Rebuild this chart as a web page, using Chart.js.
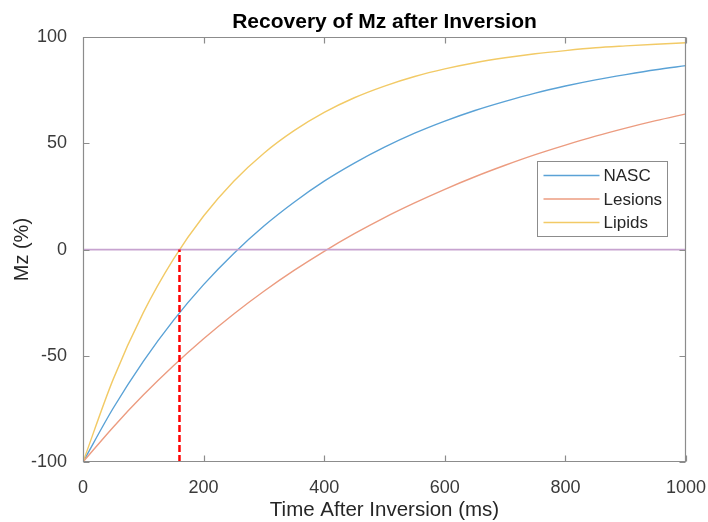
<!DOCTYPE html>
<html>
<head>
<meta charset="utf-8">
<script src="https://cdn.jsdelivr.net/npm/chart.js@4"></script>
<style>
  html, body { margin: 0; padding: 0; background: #ffffff; }
  #c { display: block; }
</style>
</head>
<body>
<canvas id="c" width="708" height="522"></canvas>
<script>
// Time after the inversion pulse (ms)
const timesMs = [0, 50, 100, 150, 200, 250, 300, 350, 400, 450, 500,
                 550, 600, 650, 700, 750, 800, 850, 900, 950, 1000];

// Longitudinal magnetisation Mz (%) for each tissue
const nascMz    = [-100, -74.7, -52.6, -33.3, -16.5, -1.8, 11.1, 22.3, 32.2, 40.7, 48.2,
                   54.8, 60.5, 65.5, 69.8, 73.7, 77.0, 79.9, 82.4, 84.7, 86.6];
const lesionsMz = [-100, -83.6, -68.5, -54.7, -42.0, -30.3, -19.6, -9.8, -0.8, 7.5, 15.1,
                   22.0, 28.4, 34.3, 39.7, 44.7, 49.2, 53.4, 57.2, 60.7, 63.9];
const lipidsMz  = [-100, -61.1, -29.7, -4.5, 15.8, 32.2, 45.4, 56.0, 64.6, 71.5, 77.0,
                   81.5, 85.1, 88.0, 90.3, 92.2, 93.7, 95.0, 95.9, 96.7, 97.4];

const seriesNames = ['NASC', 'Lesions', 'Lipids'];

// Null point of the lipid signal (ms) and the zero line
const nullTimeMs = 160;
const zeroLineX = [0, 1000];
const zeroLineY = [0, 0];
const nullLineY = [-100, 0];

// Tick labels
const xTicks = [0, 200, 400, 600, 800, 1000];
const yTicks = [-100, -50, 0, 50, 100];

const FONT = "'Liberation Sans', Arial, Helvetica, sans-serif";
const AXIS_GREY = '#8c8c8c';

const toPoints = (xs, ys) => xs.map((x, i) => ({ x: x, y: ys[i] }));

// Box around the axes with inward tick marks on all four sides
const axesFrame = {
  id: 'axesFrame',
  afterDatasetsDraw(chart) {
    const { ctx, chartArea: a, scales: { x, y } } = chart;
    const L = Math.round(a.left) + 0.5, R = Math.round(a.right) - 0.5;
    const T = Math.round(a.top) + 0.5, B = Math.round(a.bottom) - 0.5;
    const tl = 6;
    ctx.save();
    ctx.strokeStyle = AXIS_GREY;
    ctx.lineWidth = 1.2;
    ctx.beginPath();
    ctx.rect(L, T, R - L, B - T);
    xTicks.forEach(v => {
      const px = Math.round(x.getPixelForValue(v)) + 0.5;
      ctx.moveTo(px, B); ctx.lineTo(px, B - tl);
      ctx.moveTo(px, T); ctx.lineTo(px, T + tl);
    });
    yTicks.forEach(v => {
      const py = Math.round(y.getPixelForValue(v)) + 0.5;
      ctx.moveTo(L, py); ctx.lineTo(L + tl, py);
      ctx.moveTo(R, py); ctx.lineTo(R - tl, py);
    });
    ctx.stroke();
    ctx.restore();
  }
};

// Boxed legend inside the plot, listing the three tissue curves
const insideLegend = {
  id: 'insideLegend',
  afterDraw(chart) {
    const { ctx, chartArea: a } = chart;
    const w = 130, h = 75;
    const left = Math.round(a.right - 19 - w) + 0.5;
    const top = Math.round(a.top + 124) + 0.5;
    ctx.save();
    ctx.fillStyle = '#ffffff';
    ctx.fillRect(left, top, w, h);
    ctx.strokeStyle = '#8c8c8c';
    ctx.lineWidth = 1;
    ctx.strokeRect(left, top, w, h);
    ctx.font = '17px ' + FONT;
    ctx.textBaseline = 'middle';
    ctx.textAlign = 'left';
    const items = chart.data.datasets.filter(d => seriesNames.includes(d.label));
    items.forEach((d, i) => {
      const cy = top + 14 + i * 23.5;
      ctx.strokeStyle = d.borderColor;
      ctx.lineWidth = d.borderWidth;
      ctx.beginPath();
      ctx.moveTo(left + 6, cy);
      ctx.lineTo(left + 62, cy);
      ctx.stroke();
      ctx.fillStyle = '#262626';
      ctx.fillText(d.label, left + 66, cy + 1);
    });
    ctx.restore();
  }
};

const curveStyle = { pointRadius: 0, borderWidth: 1.4, cubicInterpolationMode: 'monotone', fill: false };

new Chart(document.getElementById('c'), {
  type: 'line',
  data: {
    datasets: [
      { label: 'null', data: toPoints([nullTimeMs, nullTimeMs], nullLineY),
        borderColor: '#ff0000', borderWidth: 2.5, borderDash: [7, 3], pointRadius: 0, order: 0 },
      { label: 'zero', data: toPoints(zeroLineX, zeroLineY),
        borderColor: '#c7a3d0', borderWidth: 1.6, pointRadius: 0, order: 1 },
      Object.assign({ label: seriesNames[0], data: toPoints(timesMs, nascMz),
        borderColor: '#5aa2d6', order: 4 }, curveStyle),
      Object.assign({ label: seriesNames[1], data: toPoints(timesMs, lesionsMz),
        borderColor: '#ec9c80', order: 3 }, curveStyle),
      Object.assign({ label: seriesNames[2], data: toPoints(timesMs, lipidsMz),
        borderColor: '#f2ca66', order: 2 }, curveStyle)
    ]
  },
  options: {
    responsive: false,
    animation: false,
    events: [],
    layout: { padding: { left: 0, right: 22, top: 0, bottom: 0 } },
    plugins: {
      legend: { display: false },
      tooltip: { enabled: false },
      title: {
        display: true,
        fullSize: false,
        text: 'Recovery of Mz after Inversion',
        color: '#000000',
        font: { family: FONT, size: 21, weight: 'bold', lineHeight: 1.2 },
        padding: { top: 10, bottom: 2 }
      }
    },
    scales: {
      x: {
        type: 'linear',
        min: 0, max: 1000,
        grid: { display: false },
        border: { display: false },
        afterBuildTicks: s => { s.ticks = xTicks.map(v => ({ value: v })); },
        afterFit: s => { s.height = 60; s.paddingLeft = 0; s.paddingRight = 0; },
        ticks: { color: '#3a3a3a', font: { family: FONT, size: 18 }, padding: 7, maxRotation: 0,
                 callback: v => String(v) },
        title: {
          display: true, text: 'Time After Inversion (ms)', color: '#262626',
          font: { family: FONT, size: 20.5, lineHeight: 1.1 }, padding: { top: 0, bottom: 0 }
        }
      },
      y: {
        type: 'linear',
        min: -100, max: 100,
        grid: { display: false },
        border: { display: false },
        afterBuildTicks: s => { s.ticks = yTicks.map(v => ({ value: v })); },
        afterFit: s => { s.width = 83; s.paddingTop = 0; s.paddingBottom = 0; },
        ticks: { color: '#3a3a3a', font: { family: FONT, size: 18 }, padding: 8,
                 callback: v => String(v) },
        title: {
          display: true, text: 'Mz (%)', color: '#262626',
          font: { family: FONT, size: 20, lineHeight: 1.2 }, padding: { top: 10, bottom: 0 }
        }
      }
    }
  },
  plugins: [axesFrame, insideLegend]
});
</script>
</body>
</html>
